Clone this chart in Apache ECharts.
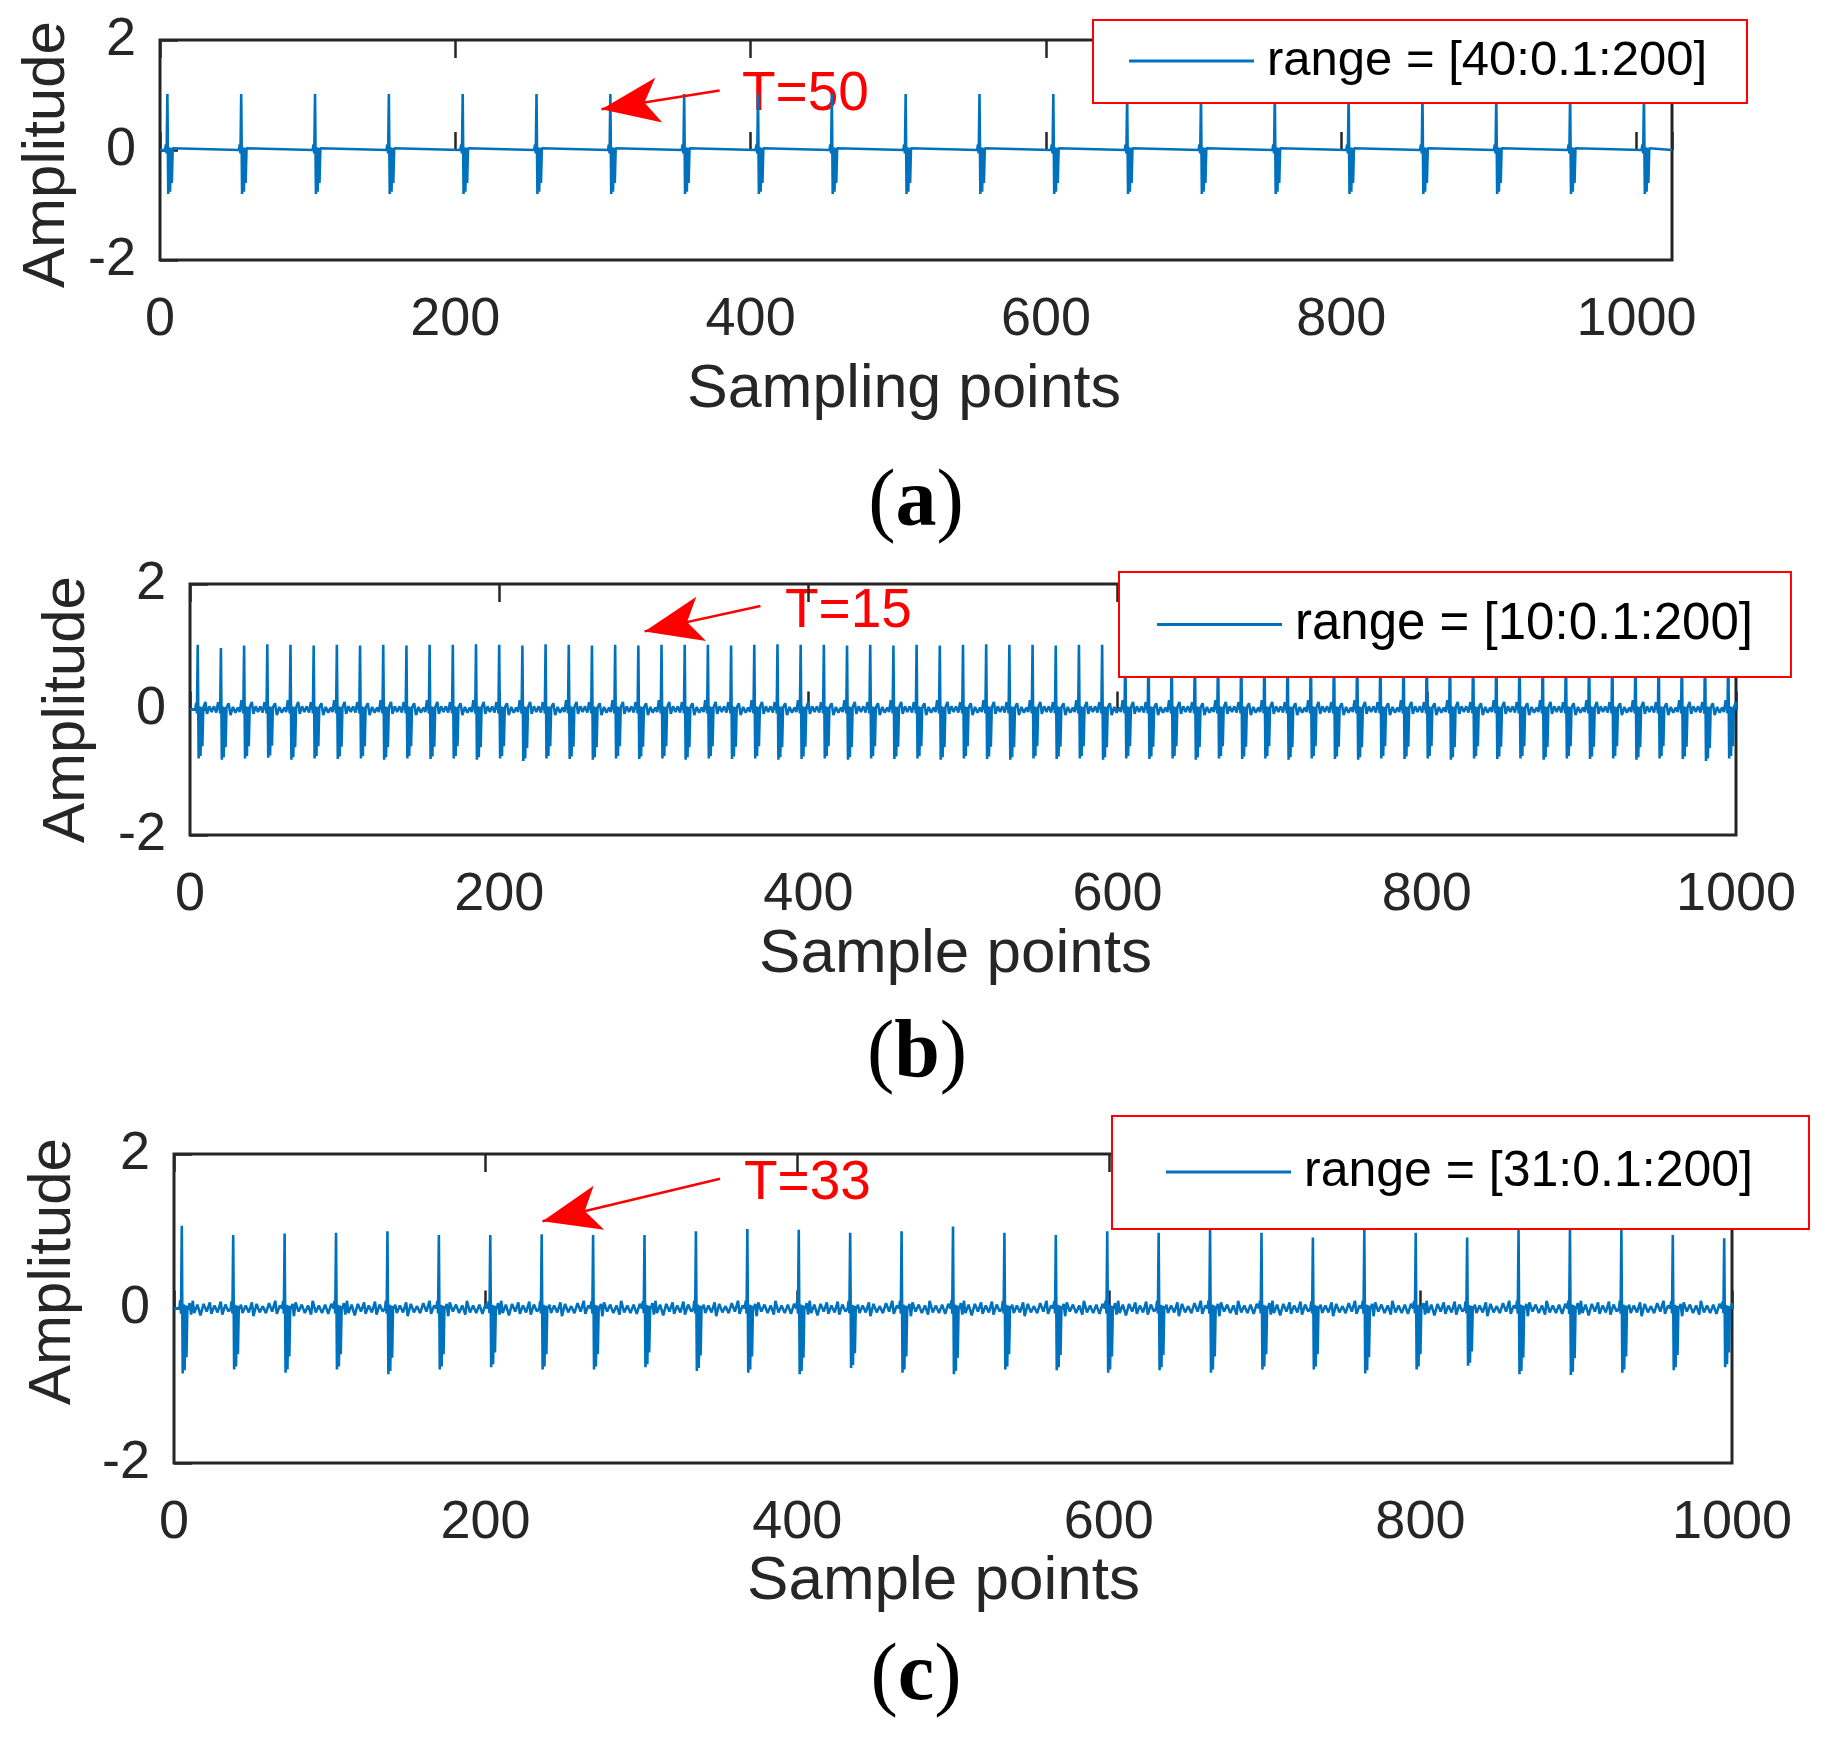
<!DOCTYPE html>
<html lang="en">

<head>
  <meta charset="UTF-8">
  <title>Periodic impulse signals</title>
  <script src="https://cdn.jsdelivr.net/npm/echarts@6/dist/echarts.min.js"></script>
  <style>
    * {
      margin: 0;
      padding: 0;
      box-sizing: border-box;
    }

    body {
      background: #fff;
    }

    #chart {
      width: 1831px;
      height: 1738px;
    }
  </style>
</head>

<body>
  <div id="chart"></div>

  <script>
    // ---- data ----
    const xTicks = [0, 200, 400, 600, 800, 1000];
    const yTicks = [-2, 0, 2];

    // (a) T=50
    const spikesA = [5, 55, 105, 155, 205, 255, 305, 355, 405, 455, 505, 555, 605, 655, 705, 755, 805, 855, 905, 955, 1005];
    const peaksA = [1.02, 1.02, 1.02, 1.02, 1.02, 1.02, 1.02, 1.02, 1.02, 1.02, 1.02, 1.02, 1.02, 1.02, 1.02, 1.02, 1.02, 1.02, 1.02, 1.02, 1.02];
    const troughsA = [0.80, 0.80, 0.80, 0.80, 0.80, 0.80, 0.80, 0.80, 0.80, 0.80, 0.80, 0.80, 0.80, 0.80, 0.80, 0.80, 0.80, 0.80, 0.80, 0.80, 0.80];

    // (b) T=15
    const spikesB = [5, 20, 35, 50, 65, 80, 95, 110, 125, 140, 155, 170, 185, 200, 215, 230, 245, 260, 275, 290,
      305, 320, 335, 350, 365, 380, 395, 410, 425, 440, 455, 470, 485, 500, 515, 530, 545, 560, 575, 590,
      605, 620, 635, 650, 665, 680, 695, 710, 725, 740, 755, 770, 785, 800, 815, 830, 845, 860, 875, 890,
      905, 920, 935, 950, 965, 980, 995];
    const peaksB = [1.03, 0.98, 1.02, 1.04, 1.03, 1.02, 1.03, 1.02, 1.03, 1.02,
      1.03, 1.03, 1.04, 1.03, 1.02, 1.04, 1.03, 1.02, 1.03, 1.02,
      1.03, 1.03, 1.03, 1.02, 1.03, 1.04, 1.03, 1.03, 1.02, 1.03,
      1.02, 1.03, 1.02, 1.03, 1.04, 1.03, 1.03, 1.02, 1.03, 1.03,
      1.02, 1.03, 1.03, 1.02, 1.03, 1.04, 1.03, 1.02, 1.03, 1.03,
      1.03, 1.02, 1.03, 1.03, 1.02, 1.03, 1.03, 1.02, 1.03, 1.03,
      1.02, 1.03, 1.03, 1.02, 1.03, 1.03, 1.02];
    const troughsB = [0.78, 0.80, 0.78, 0.77, 0.80, 0.78, 0.79, 0.78, 0.80, 0.78,
      0.79, 0.78, 0.80, 0.78, 0.82, 0.78, 0.79, 0.80, 0.78, 0.79,
      0.78, 0.80, 0.78, 0.79, 0.78, 0.80, 0.79, 0.78, 0.80, 0.78,
      0.79, 0.78, 0.80, 0.78, 0.79, 0.80, 0.78, 0.79, 0.78, 0.80,
      0.78, 0.79, 0.78, 0.80, 0.78, 0.79, 0.78, 0.80, 0.78, 0.79,
      0.80, 0.78, 0.79, 0.78, 0.80, 0.78, 0.79, 0.78, 0.80, 0.78,
      0.79, 0.78, 0.80, 0.78, 0.79, 0.82, 0.78];

    // (c) T=33
    const spikesC = [5, 38, 71, 104, 137, 170, 203, 236, 269, 302, 335, 368, 401, 434, 467, 500,
      533, 566, 599, 632, 665, 698, 731, 764, 797, 830, 863, 896, 929, 962, 995];
    const peaksC = [1.07, 0.95, 0.97, 0.98, 1.00, 0.95, 0.95, 0.96, 0.95, 0.95, 1.00, 1.03, 1.02, 0.98, 1.00,
      1.06, 0.98, 0.95, 1.00, 0.98, 1.02, 0.98, 0.92, 1.02, 0.98, 0.92, 1.02, 1.02, 1.02, 0.95, 0.91];
    const troughsC = [0.84, 0.79, 0.83, 0.79, 0.85, 0.79, 0.76, 0.79, 0.79, 0.76, 0.81, 0.83, 0.85, 0.77, 0.83,
      0.85, 0.79, 0.80, 0.83, 0.80, 0.83, 0.79, 0.79, 0.84, 0.79, 0.74, 0.85, 0.86, 0.83, 0.80, 0.76];

    // shape of one impulse around its peak (offset in samples, fraction of peak / trough)
    const shapeOffsets = [-1.6, -1.0, -0.5, 0, 0.6, 1.2, 1.8, 2.4, 3.0, 3.6, 4.2];
    const shapeNorm = [0, 0.1, -0.08, 1, -1, 0.05, -0.95, 0.04, -0.75, 0.03, 0];

    // small ripple between impulses ([offset after impulse, value])
    const rippleB = [
      [[5.0, 0.12], [6.0, -0.07], [7.5, 0.05], [9.0, -0.04], [10.5, 0.05], [12.0, -0.05], [13.2, 0.12]],
      [[5.0, 0.10], [6.2, -0.09], [7.8, 0.04], [9.4, -0.05], [11.0, 0.03], [12.2, -0.04], [13.3, 0.15]]
    ];
    const rippleC = [
      [[5, 0.07], [6, -0.08], [7, 0.10], [8, -0.06], [10, 0.05], [12, -0.09], [14, 0.06], [16, -0.04], [18, 0.08], [19, -0.07], [21, 0.04], [23, -0.05], [25, 0.09], [26, -0.08], [28, 0.05], [30, -0.04]],
      [[5, 0.05], [6, -0.06], [8, 0.04], [10, -0.05], [12, 0.08], [13, -0.10], [15, 0.06], [17, -0.05], [19, 0.03], [21, -0.06], [23, 0.07], [25, -0.04], [27, 0.10], [28, -0.07], [30, 0.04]],
      [[5, 0.06], [6, -0.10], [7, 0.08], [9, -0.04], [11, 0.05], [13, -0.06], [15, 0.04], [17, -0.08], [18, 0.10], [20, -0.05], [22, 0.04], [24, -0.06], [26, 0.05], [28, -0.07], [30, 0.06]]
    ];

    // arrows: [tail, tip] in data coords
    const arrowA = [[379, 1.08], [299, 0.74]];
    const arrowB = [[369, 1.65], [294, 1.245]];
    const arrowC = [[350.5, 1.68], [236.5, 1.13]];

    const legendA = 'range = [40:0.1:200]';
    const legendB = 'range = [10:0.1:200]';
    const legendC = 'range = [31:0.1:200]';

    // ---- build ----
    function buildSeries(spikes, peaks, troughs, ripples, xMax) {
      const pts = [[0, 0]];
      spikes.forEach((s, i) => {
        shapeOffsets.forEach((o, j) => {
          const n = shapeNorm[j];
          pts.push([s + o, n >= 0 ? n * peaks[i] : n * troughs[i]]);
        });
        const rip = ripples.length ? ripples[i % ripples.length] : [];
        rip.forEach(r => pts.push([s + r[0], r[1]]));
      });
      pts.push([xMax, 0]);
      return pts.filter(p => p[0] >= 0 && p[0] <= xMax);
    }

    const FONT = 'Liberation Sans, Arial, sans-serif';
    const AXIS_COLOR = '#262626';

    function xAxes(gridIndex, max, name, nameGap, nameSize, namePadding) {
      return [{
        type: 'value', gridIndex, min: 0, max, interval: 200, position: 'bottom',
        name, nameLocation: 'middle', nameGap,
        nameTextStyle: { fontFamily: FONT, fontSize: nameSize, color: AXIS_COLOR, padding: namePadding },
        axisLine: { show: false },
        axisTick: { show: true, inside: true, length: 18, lineStyle: { color: AXIS_COLOR, width: 2.5 } },
        axisLabel: {
          fontFamily: FONT, fontSize: 54, color: AXIS_COLOR, margin: 33,
          formatter: v => (xTicks.includes(v) ? String(v) : '')
        },
        splitLine: { show: false }
      }, {
        type: 'value', gridIndex, min: 0, max, interval: 200, position: 'top',
        axisLine: { show: false },
        axisTick: { show: true, inside: true, length: 18, lineStyle: { color: AXIS_COLOR, width: 2.5 } },
        axisLabel: { show: false },
        splitLine: { show: false }
      }];
    }

    function yAxis(gridIndex, nameGap, namePadding) {
      return {
        type: 'value', gridIndex, min: -2, max: 2, interval: 2,
        name: 'Amplitude', nameLocation: 'middle', nameGap,
        nameTextStyle: { fontFamily: FONT, fontSize: 60, color: AXIS_COLOR, padding: namePadding },
        axisLine: { show: false },
        axisTick: { show: true, inside: true, length: 18, lineStyle: { color: AXIS_COLOR, width: 2.5 } },
        axisLabel: {
          fontFamily: FONT, fontSize: 54, color: AXIS_COLOR, margin: 24,
          formatter: v => (yTicks.includes(v) ? String(v) : '')
        },
        splitLine: { show: false }
      };
    }

    function signalSeries(name, xAxisIndex, yAxisIndex, data, arrow) {
      return {
        name, type: 'line', xAxisIndex, yAxisIndex, data,
        showSymbol: false, symbol: 'none', sampling: 'none',
        lineStyle: { color: '#0072bd', width: 2.6 },
        itemStyle: { color: '#0072bd' },
        animation: false,
        markLine: {
          silent: true, animation: false,
          symbol: ['none', 'arrow'],
          label: { show: false },
          lineStyle: { color: '#ff0000', width: 2.5, type: 'solid' },
          itemStyle: { color: '#ff0000' },
          data: [[{ coord: arrow[0] }, { coord: arrow[1], symbolSize: [34, 58] }]]
        }
      };
    }

    function legend(name, left, top, padding, fontSize) {
      return {
        data: [name], left, top, padding, orient: 'horizontal',
        selectedMode: false,
        backgroundColor: '#fff', borderColor: '#ff0000', borderWidth: 2,
        icon: 'rect', itemWidth: 125, itemHeight: 3,
        textStyle: { fontFamily: FONT, fontSize, color: '#000', lineHeight: 50, padding: [0, 0, 0, 8] }
      };
    }

    function caption(letter, x, y) {
      return {
        type: 'text', x, y, silent: true,
        style: {
          text: '{p|(}{b|' + letter + '}{p|)}',
          textAlign: 'center', textVerticalAlign: 'middle',
          rich: {
            p: { fontFamily: 'Liberation Serif, Times New Roman, serif', fontSize: 82, fontWeight: 'normal', fill: '#000' },
            b: { fontFamily: 'Liberation Serif, Times New Roman, serif', fontSize: 82, fontWeight: 'bold', fill: '#000' }
          }
        }
      };
    }

    function note(text, x, y) {
      return {
        type: 'text', x, y, silent: true,
        style: {
          text, fill: '#ff0000', font: '55px Liberation Sans, Arial, sans-serif',
          textAlign: 'left', textVerticalAlign: 'middle'
        }
      };
    }

    const chart = echarts.init(document.getElementById('chart'), null, { renderer: 'canvas' });

    const gridStyle = { show: true, borderColor: AXIS_COLOR, borderWidth: 3, backgroundColor: 'transparent', outerBoundsMode: 'none', containLabel: false };

    const option = {
      backgroundColor: '#fff',
      animation: false,
      grid: [
        Object.assign({ left: 160, top: 40, width: 1512, height: 220 }, gridStyle),
        Object.assign({ left: 190, top: 584, width: 1546, height: 251 }, gridStyle),
        Object.assign({ left: 174, top: 1154, width: 1558, height: 309 }, gridStyle)
      ],
      xAxis: [].concat(
        xAxes(0, 1024, 'Sampling points', 100, 61, [0, 24, 0, 0]),
        xAxes(1, 1000, 'Sample points', 89, 62, [0, 15, 0, 0]),
        xAxes(2, 1000, 'Sample points', 84, 62, [0, 19, 0, 0])
      ),
      yAxis: [
        yAxis(0, 78, [0, 9, 0, 0]),
        yAxis(1, 93, 0),
        yAxis(2, 91, [0, 0, 0, 74])
      ],
      legend: [
        legend(legendA, 1093, 20, [16, 40, 17, 36], 49),
        legend(legendB, 1119, 572, [27, 38, 27, 38], 51),
        legend(legendC, 1112, 1116, [31, 56, 32, 54], 50)
      ],
      graphic: [
        note('T=50', 742, 95),
        note('T=15', 785, 612),
        note('T=33', 744, 1184),
        caption('a', 916, 504),
        caption('b', 917, 1055),
        caption('c', 916, 1678)
      ],
      series: [
        signalSeries(legendA, 0, 0, buildSeries(spikesA, peaksA, troughsA, [], 1024), arrowA),
        signalSeries(legendB, 2, 1, buildSeries(spikesB, peaksB, troughsB, rippleB, 1000), arrowB),
        signalSeries(legendC, 4, 2, buildSeries(spikesC, peaksC, troughsC, rippleC, 1000), arrowC)
      ]
    };

    chart.setOption(option);
  </script>
</body>

</html>
